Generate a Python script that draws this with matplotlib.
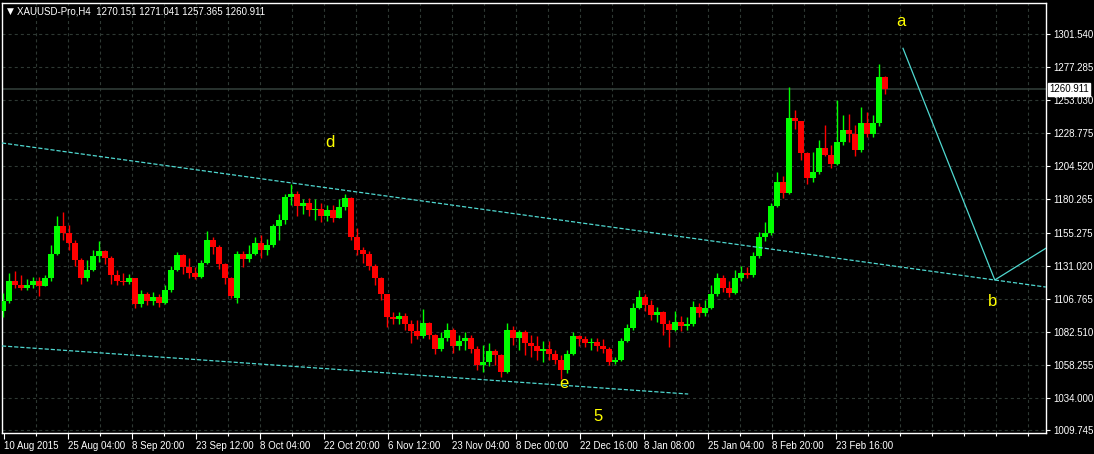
import matplotlib
matplotlib.use("Agg")
import matplotlib.pyplot as plt
import matplotlib.transforms as mtransforms
import numpy as np

plt.rcParams["font.family"] = ["Liberation Sans", "DejaVu Sans"]
plt.rcParams["lines.scale_dashes"] = False

# ---- data (daily-ish candles) ----
symbol = "XAUUSD-Pro,H4"
last_ohlc = [1270.151, 1271.041, 1257.365, 1260.911]

opens = [
    1098, 1105, 1120, 1117, 1115, 1117, 1120, 1116, 1122, 1140,
    1160, 1155, 1148, 1135, 1122, 1128, 1138, 1142, 1137, 1124,
    1120, 1119, 1122, 1103, 1110, 1105, 1108, 1104, 1113, 1128,
    1139, 1130, 1126, 1123, 1133, 1150, 1145, 1132, 1122, 1107,
    1140, 1136, 1140, 1148, 1143, 1146, 1160, 1165, 1182, 1184,
    1175, 1177, 1172, 1173, 1168, 1172, 1166, 1174, 1181, 1152,
    1143, 1140, 1131, 1122, 1110, 1093, 1092, 1094, 1088, 1083,
    1079, 1089, 1080, 1070, 1078, 1084, 1072, 1076, 1078, 1070,
    1058, 1060, 1068, 1065, 1053, 1084, 1078, 1082, 1074, 1072,
    1068, 1070, 1066, 1062, 1054, 1066, 1079, 1077, 1074, 1075,
    1072, 1070, 1060, 1062, 1076, 1085, 1100, 1108, 1102, 1095,
    1097, 1088, 1084, 1090, 1087, 1088, 1101, 1096, 1100, 1110,
    1122, 1115, 1111, 1122, 1126, 1124, 1138, 1152, 1155, 1175,
    1193, 1185, 1240, 1238, 1214, 1196, 1200, 1218, 1213, 1206,
    1222, 1231, 1228, 1216, 1236, 1228, 1236, 1270.151,
]
highs = [
    1111, 1126, 1127, 1124, 1121, 1123, 1123, 1124, 1146, 1168,
    1171, 1161, 1150, 1137, 1135, 1143, 1149, 1143, 1138, 1128,
    1126, 1125, 1122, 1113, 1112, 1112, 1110, 1117, 1131, 1141,
    1140, 1137, 1130, 1135, 1157, 1152, 1146, 1133, 1123, 1142,
    1142, 1146, 1152, 1154, 1151, 1162, 1169, 1184, 1191, 1186,
    1180, 1181, 1180, 1177, 1176, 1176, 1180, 1184, 1182, 1159,
    1145, 1142, 1132, 1123, 1110, 1097, 1097, 1096, 1091, 1091,
    1099, 1090, 1081, 1082, 1089, 1085, 1080, 1082, 1080, 1072,
    1073, 1074, 1070, 1066, 1089, 1087, 1084, 1084, 1080, 1079,
    1076, 1076, 1069, 1065, 1069, 1082, 1080, 1079, 1078, 1078,
    1077, 1071, 1064, 1078, 1088, 1104, 1113, 1110, 1106, 1101,
    1098, 1091, 1098, 1094, 1093, 1105, 1104, 1106, 1117, 1126,
    1124, 1120, 1128, 1131, 1130, 1141, 1156, 1163, 1177, 1200,
    1197, 1263, 1246, 1238, 1215, 1215, 1224, 1235, 1220, 1253,
    1242, 1243, 1235, 1248, 1244, 1242, 1280, 1271.041,
]
lows = [
    1093, 1104, 1115, 1113, 1113, 1115, 1109, 1116, 1120, 1139,
    1150, 1143, 1131, 1118, 1120, 1127, 1134, 1132, 1118, 1117,
    1117, 1118, 1100, 1101, 1102, 1102, 1101, 1103, 1112, 1127,
    1125, 1122, 1121, 1122, 1132, 1140, 1129, 1118, 1107, 1104,
    1130, 1134, 1139, 1137, 1139, 1145, 1150, 1162, 1176, 1168,
    1169, 1168, 1165, 1163, 1164, 1163, 1166, 1172, 1150, 1139,
    1133, 1128, 1117, 1106, 1086, 1088, 1088, 1084, 1074, 1077,
    1078, 1077, 1066, 1068, 1076, 1067, 1069, 1069, 1067, 1054,
    1053, 1057, 1058, 1049, 1052, 1073, 1069, 1065, 1064, 1062,
    1060, 1062, 1059, 1048, 1052, 1065, 1072, 1071, 1069, 1068,
    1067, 1058, 1059, 1061, 1075, 1084, 1099, 1098, 1091, 1090,
    1080, 1071, 1083, 1083, 1084, 1087, 1093, 1094, 1099, 1109,
    1112, 1108, 1110, 1120, 1122, 1123, 1137, 1149, 1154, 1174,
    1181, 1184, 1232, 1209, 1191, 1193, 1199, 1212, 1203, 1205,
    1220, 1222, 1212, 1215, 1226, 1226, 1234, 1257.365,
]
closes = [
    1105, 1120, 1117, 1115, 1117, 1120, 1116, 1122, 1140, 1160,
    1155, 1148, 1135, 1122, 1128, 1138, 1142, 1137, 1124, 1120,
    1119, 1122, 1103, 1110, 1105, 1108, 1104, 1113, 1128, 1139,
    1130, 1126, 1123, 1133, 1150, 1145, 1132, 1122, 1109, 1140,
    1136, 1140, 1148, 1143, 1146, 1160, 1165, 1182, 1184, 1175,
    1177, 1172, 1173, 1168, 1172, 1166, 1174, 1181, 1152, 1143,
    1140, 1131, 1122, 1110, 1093, 1092, 1094, 1088, 1083, 1079,
    1089, 1080, 1070, 1078, 1084, 1072, 1076, 1078, 1070, 1058,
    1060, 1068, 1065, 1053, 1084, 1078, 1082, 1074, 1072, 1068,
    1070, 1066, 1062, 1054, 1066, 1079, 1077, 1074, 1075, 1072,
    1070, 1060, 1062, 1076, 1085, 1100, 1108, 1102, 1095, 1097,
    1088, 1084, 1090, 1087, 1088, 1101, 1096, 1100, 1110, 1122,
    1115, 1111, 1122, 1126, 1124, 1138, 1152, 1155, 1175, 1193,
    1185, 1240, 1238, 1214, 1196, 1200, 1218, 1213, 1206, 1222,
    1231, 1228, 1216, 1236, 1228, 1236, 1270.151, 1260.911,
]

price_ticks = [1301.540, 1277.285, 1253.030, 1228.775, 1204.520, 1180.265,
               1155.275, 1131.020, 1106.765, 1082.510, 1058.255, 1034.000,
               1009.745]
date_labels = ["10 Aug 2015", "25 Aug 04:00", "8 Sep 20:00", "23 Sep 12:00",
               "8 Oct 04:00", "22 Oct 20:00", "6 Nov 12:00", "23 Nov 04:00",
               "8 Dec 00:00", "22 Dec 16:00", "8 Jan 08:00", "25 Jan 04:00",
               "8 Feb 20:00", "23 Feb 16:00"]

# hand-drawn objects (bar index, price)
upper_channel = [(-0.17, 1221.5), (173.8, 1115.4)]
lower_channel = [(-0.17, 1072.0), (114.2, 1036.6)]
wave_path = [(150.0, 1291.2), (165.3, 1120.6), (173.9, 1144.2)]
wave_labels = ["a", "b", "d", "e", "5"]
wave_label_pos = [(149.7, 1310.6), (165.0, 1104.4), (54.5, 1221.5),
                  (93.5, 1044.0), (99.2, 1020.4)]

# ---- styling ----
BG = "#000000"
UP = "#00ff00"
DOWN = "#ff0000"
GRID = "#2e3833"
LINE = "#4fd8d0"
TXT = "#ffffff"
YEL = "#ffff00"

W, H = 1094, 454
fig = plt.figure(figsize=(W / 100, H / 100), dpi=100, facecolor=BG)
ax = fig.add_axes([2 / W, (H - 433) / H, (1046 - 2) / W, (433 - 2.7) / H])
ax.set_facecolor(BG)

PX = 6.0  # pixels per candle
xs = np.arange(len(closes))
ax.set_xlim(-1 / PX, 1043 / PX)
ax.set_ylim(1007.9, 1324.8)

# grid (MT4 style: fixed pixel spacing)
grid_x = (np.arange(1, 33) * 32 + 0.5) / PX
for gx in grid_x:
    ax.axvline(gx, color=GRID, lw=0.8, dashes=(2.2, 2.2), zorder=0)
for gy in price_ticks:
    ax.axhline(gy, color=GRID, lw=0.8, dashes=(2.2, 2.2), zorder=0)

# current price line
ax.axhline(last_ohlc[3], color="#34403b", lw=1.1, zorder=1)

# candles
o = np.array(opens); h = np.array(highs); l = np.array(lows); c = np.array(closes)
cols = np.where(c >= o, UP, DOWN)
ax.vlines(xs, l, h, colors=cols, lw=1.0, zorder=3)
body_lo = np.minimum(o, c)
body_h = np.maximum(np.abs(c - o), 0.6)
ax.bar(xs, body_h, bottom=body_lo, width=0.85, color=cols, linewidth=0, zorder=3)

# channel lines and wave path
(x0, y0), (x1, y1) = upper_channel
ax.plot([x0, x1], [y0, y1], color=LINE, lw=0.9, dashes=(3.0, 1.4), zorder=4)
(x0, y0), (x1, y1) = lower_channel
ax.plot([x0, x1], [y0, y1], color=LINE, lw=0.9, dashes=(3.0, 1.4), zorder=4)
ax.plot([p[0] for p in wave_path], [p[1] for p in wave_path],
        color=LINE, lw=0.9, zorder=4, clip_on=True)

for lab, (lx, ly) in zip(wave_labels, wave_label_pos):
    ax.text(lx, ly, lab, color=YEL, fontsize=12, ha="center", va="center", zorder=5)

# spines
for s in ax.spines.values():
    s.set_color(TXT)
    s.set_linewidth(1.0)

# y axis on the right
ax.yaxis.tick_right()
ax.set_yticks(price_ticks)
ax.set_yticklabels([f"{v:.3f}" for v in price_ticks])
ax.tick_params(axis="y", direction="out", length=3, width=0.8, color=TXT,
               labelcolor=TXT, labelsize=7, pad=2)

# x axis ticks
major_x = (np.arange(len(date_labels)) * 64 + 0.5) / PX
minor_x = (np.arange(0, 33) * 32 + 0.5) / PX
ax.set_xticks(major_x)
ax.set_xticklabels(date_labels, ha="left")
ax.set_xticks(minor_x, minor=True)
ax.tick_params(axis="x", which="major", direction="out", length=4, width=0.8,
               color=TXT, labelcolor=TXT, labelsize=7, pad=2)
ax.tick_params(axis="x", which="minor", direction="out", length=2, width=0.8,
               color=TXT)
offset = mtransforms.ScaledTranslation(1 / 100, 0, fig.dpi_scale_trans)
for t in ax.get_xticklabels():
    t.set_transform(t.get_transform() + offset)

# current price tag
trans = mtransforms.blended_transform_factory(ax.transAxes, ax.transData)
ax.text(1.0 + 3 / (1046 - 2), last_ohlc[3], f"{last_ohlc[3]:.3f}", transform=trans,
        ha="left", va="center", fontsize=7, color="black", zorder=6, clip_on=False,
        bbox=dict(boxstyle="square,pad=0.15", fc="white", ec="white"))

# header
fig.text(7 / W, 1 - 11 / H, "\u25bc", color=TXT, fontsize=6.5, va="center",
         family=["DejaVu Sans"])
fig.text(17 / W, 1 - 11 / H,
         f"{symbol}  " + " ".join(f"{v:.3f}" for v in last_ohlc),
         color=TXT, fontsize=7, va="center")

fig.savefig("out.png", dpi=100, facecolor=BG)
